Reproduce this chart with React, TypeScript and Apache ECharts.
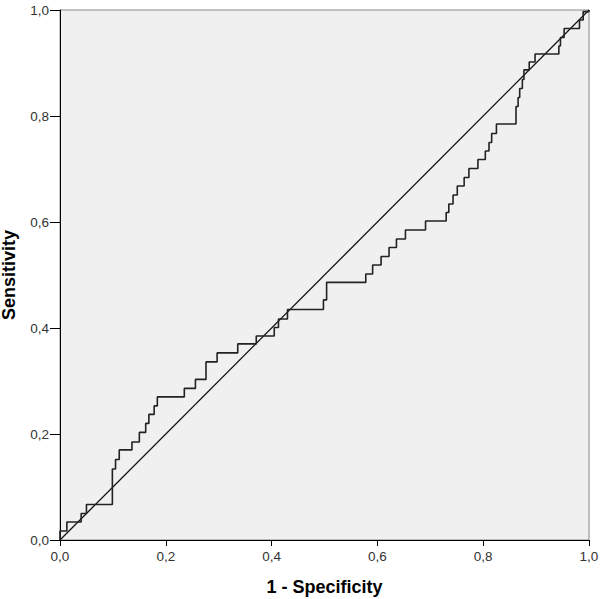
import React, { useEffect, useRef } from "react";
import * as echarts from "echarts";

// x position (1 - specificity) where each vertical jump of the ROC staircase occurs
const stepX = [
  0.0, 0.013, 0.04, 0.05, 0.099, 0.105, 0.112, 0.136, 0.15, 0.162, 0.168, 0.178, 0.184,
  0.235, 0.256, 0.276, 0.297, 0.336, 0.371, 0.405, 0.413, 0.43, 0.498, 0.504, 0.578,
  0.591, 0.607, 0.622, 0.636, 0.653, 0.691, 0.73, 0.735, 0.743, 0.751, 0.764, 0.773,
  0.79, 0.804, 0.811, 0.816, 0.825, 0.862, 0.866, 0.869, 0.874, 0.877, 0.887, 0.898,
  0.943, 0.946, 0.953, 0.982, 0.989, 1.0,
];
// sensitivity reached after each jump
const stepY = [
  0.017, 0.034, 0.05, 0.067, 0.134, 0.152, 0.17, 0.185, 0.203, 0.22, 0.237, 0.253, 0.27,
  0.286, 0.303, 0.336, 0.353, 0.37, 0.385, 0.401, 0.417, 0.435, 0.453, 0.486, 0.502,
  0.519, 0.535, 0.552, 0.568, 0.585, 0.602, 0.618, 0.634, 0.651, 0.668, 0.684, 0.701,
  0.718, 0.734, 0.75, 0.767, 0.785, 0.818, 0.835, 0.852, 0.869, 0.887, 0.902, 0.917,
  0.932, 0.948, 0.965, 0.981, 0.997, 1.0,
];
const diagonal = [
  [0, 0],
  [1, 1],
];
const tickLabels = ["0,0", "0,2", "0,4", "0,6", "0,8", "1,0"];

export default function App() {
  const ref = useRef<HTMLDivElement>(null);
  useEffect(() => {
    if (!ref.current) return;
    const chart = echarts.init(ref.current, null, { renderer: "svg" });
    const curve: number[][] = [[0, 0]];
    let prevY = 0;
    for (let i = 0; i < stepX.length; i++) {
      curve.push([stepX[i], prevY]);
      curve.push([stepX[i], stepY[i]]);
      prevY = stepY[i];
    }
    const fmt = (v: number) => tickLabels[Math.round(v * 5)] ?? "";
    const font = "Liberation Sans, Arial, sans-serif";
    const labelStyle = { formatter: fmt, color: "#333", fontSize: 13.5, fontFamily: font };
    const nameStyle = { color: "#000", fontSize: 18, fontWeight: "bold" as const, fontFamily: font };
    chart.setOption({
      animation: false,
      backgroundColor: "#fff",
      grid: {
        left: 60,
        right: 11,
        top: 10,
        bottom: 59,
        containLabel: false,
        outerBoundsMode: "none",
        show: true,
        backgroundColor: "#f0f0f0",
        borderColor: "#888",
        borderWidth: 1,
      },
      xAxis: {
        type: "value",
        min: 0,
        max: 1,
        interval: 0.2,
        splitLine: { show: false },
        axisLine: { show: true, lineStyle: { color: "#000", width: 1 } },
        axisTick: { show: true, length: 6, lineStyle: { color: "#000" } },
        axisLabel: { ...labelStyle, margin: 9 },
        name: "1 - Specificity",
        nameLocation: "middle",
        nameGap: 38,
        nameTextStyle: nameStyle,
      },
      yAxis: {
        type: "value",
        min: 0,
        max: 1,
        interval: 0.2,
        splitLine: { show: false },
        axisLine: { show: true, lineStyle: { color: "#000", width: 1 } },
        axisTick: { show: true, length: 10, lineStyle: { color: "#000" } },
        axisLabel: { ...labelStyle, margin: 11 },
        name: "Sensitivity",
        nameLocation: "middle",
        nameGap: 42,
        nameTextStyle: nameStyle,
      },
      series: [
        {
          type: "line",
          data: diagonal,
          symbol: "none",
          lineStyle: { color: "#111", width: 1.3 },
        },
        {
          type: "line",
          data: curve,
          symbol: "none",
          lineStyle: { color: "#222", width: 1.6 },
        },
      ],
    });
    return () => chart.dispose();
  }, []);
  return <div ref={ref} style={{ width: 600, height: 599, position: "absolute", left: 0, top: 0 }} />;
}
